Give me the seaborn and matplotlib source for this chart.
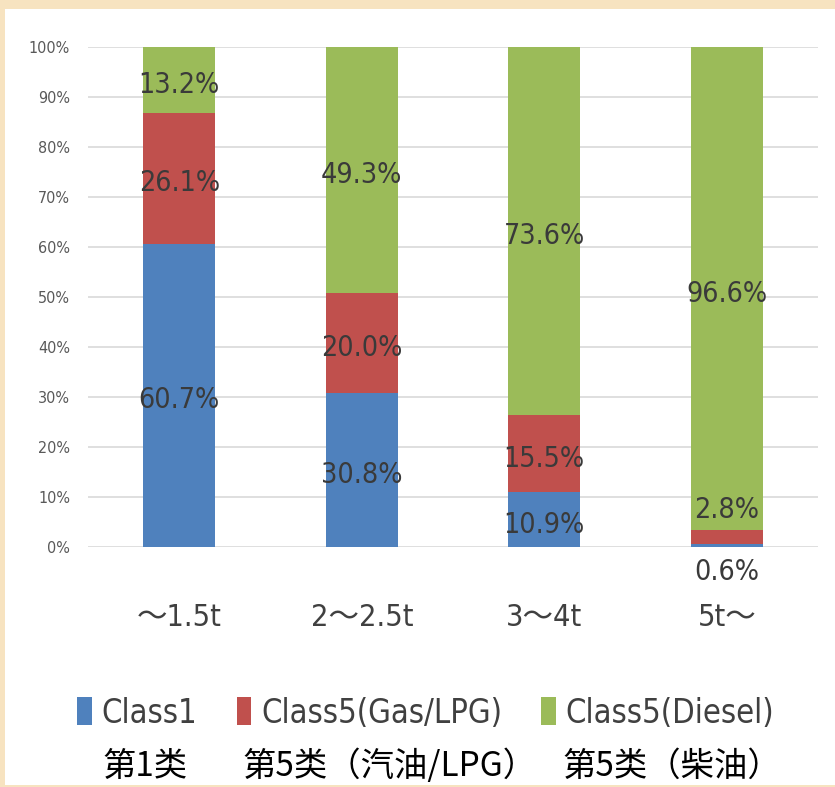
import pandas as pd
import matplotlib
matplotlib.use('Agg')
import matplotlib.pyplot as plt
from matplotlib.patches import Rectangle, Patch
import seaborn as sns

# data (percent)
categories = ['～1.5t', '2～2.5t', '3～4t', '5t～']
class1 = [60.7, 30.8, 10.9, 0.6]
gas_lpg = [26.1, 20.0, 15.5, 2.8]
diesel = [13.2, 49.3, 73.6, 96.6]
series_names = ['Class1', 'Class5(Gas/LPG)', 'Class5(Diesel)']
cn_labels = ['第1类', '第5类（汽油/LPG）', '第5类（柴油）']
y_ticks = [0, 10, 20, 30, 40, 50, 60, 70, 80, 90, 100]

colors = ['#4F81BD', '#C0504D', '#9BBB59']

sns.set_style('white')
plt.rcParams['font.family'] = ['DejaVu Sans', 'Noto Sans CJK JP']
plt.rcParams['font.stretch'] = 'condensed'

df = pd.DataFrame({'cat': categories, 'c1': class1, 'gas': gas_lpg, 'diesel': diesel})
df['top2'] = df['c1'] + df['gas']
df['top3'] = df['top2'] + df['diesel']

fig = plt.figure(figsize=(8.35, 7.87), dpi=100, facecolor='#F7E3C0')
fig.patches.append(Rectangle((0.006, 0.0025), 0.994, 0.986, transform=fig.transFigure,
                             facecolor='white', edgecolor='none', zorder=-10))
ax = fig.add_axes([0.1054, 0.305, 0.8743, 0.635])
ax.set_facecolor('none')

w = 0.395
kw = dict(width=w, saturation=1, ax=ax, zorder=2, linewidth=0, edgecolor='none')
sns.barplot(data=df, x='cat', y='top3', color=colors[2], **kw)
sns.barplot(data=df, x='cat', y='top2', color=colors[1], **kw)
sns.barplot(data=df, x='cat', y='c1', color=colors[0], **kw)

# segment labels
bottoms = [0] * len(categories)
for vals in [class1, gas_lpg, diesel]:
    for i, v in enumerate(vals):
        b = bottoms[i]
        if v < 5:
            y = -5 if b == 0 else b + v + 4
        else:
            y = b + v / 2 - 1
        ax.text(i, y, f'{v:.1f}%', ha='center', va='center', fontsize=20.5,
                color='#3A3A3A', clip_on=False, zorder=3)
        bottoms[i] = b + v

ax.set_ylim(0, 100)
ax.set_xlim(-0.5, 3.5)
ax.set_yticks(y_ticks)
ax.set_yticklabels([f'{t}%' for t in y_ticks], fontsize=11.5, color='#595959')
ax.set_xlabel('')
ax.set_ylabel('')
ax.tick_params(axis='x', length=0, pad=40, labelsize=22, labelcolor='#404040')
ax.tick_params(axis='y', length=0, pad=13)
ax.yaxis.grid(True, color='#D9D9D9', lw=1.2, zorder=0)
ax.set_axisbelow(True)
sns.despine(ax=ax, left=True, bottom=True)

handles = [Patch(facecolor=c, edgecolor='none') for c in colors]
fig.legend(handles, series_names, loc='center', bbox_to_anchor=(0.51, 0.094), ncol=3,
           frameon=False, fontsize=23.5, handlelength=0.45, handleheight=0.95,
           handletextpad=0.3, columnspacing=1.2, labelcolor='#404040')

cn_x = [0.123, 0.290, 0.674]
for x, t in zip(cn_x, cn_labels):
    fig.text(x, 0.026, t, ha='left', va='center', fontsize=24,
             family=['Noto Sans CJK SC', 'DejaVu Sans'], color='black')

fig.savefig('out.png', dpi=100, facecolor=fig.get_facecolor())
